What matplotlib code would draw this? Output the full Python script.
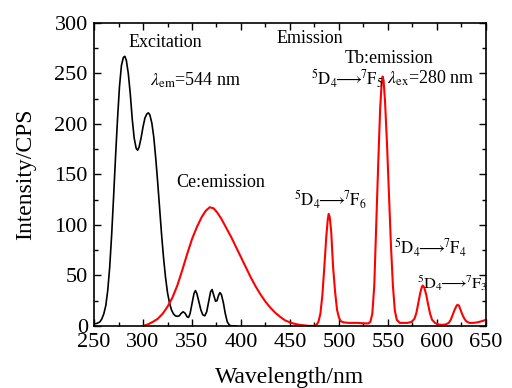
import numpy as np
import matplotlib
matplotlib.use("Agg")
import matplotlib.pyplot as plt
from matplotlib.ticker import MultipleLocator

plt.rcParams['font.family'] = ['Liberation Serif', 'DejaVu Serif']
plt.rcParams['mathtext.fontset'] = 'stix'

# excitation spectrum (lambda_em = 544 nm)
ex_wl = [250, 253, 256, 258, 260, 262, 264, 266, 268, 270, 272, 274, 276, 278, 280,
         281.5, 283, 285, 287, 289, 291, 293, 294.5, 296, 298, 300, 302, 304, 305.5, 307,
         309, 311, 313, 315, 317, 319, 321, 323, 325, 327, 329, 331, 333, 335, 337,
         339, 341, 343, 345, 346.5, 348, 350, 352, 353.5, 355, 357, 359, 361, 363, 365,
         367, 369, 370.5, 372, 374, 375.5, 377, 378.5, 380, 382, 384, 386, 388, 390, 395]
ex_int = [2, 2.5, 4, 7, 12, 20, 35, 58, 90, 128, 168, 205, 237, 258, 266,
          267, 263, 250, 230, 205, 186, 176, 174, 177, 186, 197, 206, 210, 211, 209,
          201, 187, 166, 142, 116, 90, 67, 48, 33, 23, 16, 12, 10, 9.5, 10,
          12.5, 14, 12.5, 9, 8.5, 12, 22, 32, 35, 32, 24, 16, 11, 10, 14,
          24, 34, 36, 31, 24.5, 25, 30, 33, 31, 23, 12, 4, 1, 0, 0]

# emission spectrum (lambda_ex = 280 nm)
em_wl = [300, 305, 310, 315, 320, 325, 330, 335, 340, 345, 350, 355, 360, 364, 368,
         372, 376, 380, 385, 390, 395, 400, 405, 410, 415, 420, 425, 430, 435, 440,
         445, 450, 455, 460, 465, 470, 474,
         477, 479, 481, 483, 485, 487, 488.5, 489.5, 490.5, 492, 494, 496, 498, 500,
         502, 505, 510, 515, 520, 525, 530,
         532, 534, 536, 538, 540, 542, 543.5, 544.5, 545.5, 547, 549, 551, 553, 555,
         557, 559, 562, 566, 570, 574,
         577, 579, 581, 583, 584.5, 585.5, 587, 589, 591, 593, 595, 598, 601, 605, 609,
         612, 614, 616, 618, 620, 621, 622.5, 624, 626, 628, 630, 633, 637, 641, 645, 650]
em_int = [0, 1.5, 4, 7, 12, 19, 28, 40, 55, 71, 86, 98, 108, 114, 117.5,
          116.5, 112, 106, 97, 88, 78, 68, 58, 48, 39, 31, 24, 18, 13, 9,
          5.5, 3.5, 2, 1, 0.5, 0, 0,
          1, 4, 12, 30, 58, 88, 105, 111, 108, 94, 58, 34, 16, 8,
          4.5, 3.5, 3, 3, 3, 2.5, 2.5,
          4, 12, 40, 100, 160, 215, 240, 247, 243, 222, 180, 130, 80, 40,
          15, 6, 3, 3, 3, 4,
          7, 13, 23, 33, 38.5, 40, 38, 31, 21, 12, 6, 3, 1.5, 1, 1.5,
          3, 6, 11, 16, 20, 21, 20, 16, 11, 7, 4.5, 3, 3, 3.5, 4.5, 6]

fig = plt.figure(figsize=(5.12, 3.88), dpi=100)
ax = fig.add_axes([0.1836, 0.16, 0.7656, 0.7807])

ax.plot(ex_wl, ex_int, color='black', lw=1.2)
ax.plot(em_wl, em_int, color='red', lw=1.5)

ax.set_xlim(250, 650)
ax.set_ylim(0, 300)
ax.xaxis.set_major_locator(MultipleLocator(50))
ax.xaxis.set_minor_locator(MultipleLocator(25))
ax.yaxis.set_major_locator(MultipleLocator(50))
ax.yaxis.set_minor_locator(MultipleLocator(25))
ax.tick_params(which='both', direction='in', top=True, right=True, labelsize=16, width=1)
ax.tick_params(which='major', length=5)
ax.tick_params(which='minor', length=3)
ax.tick_params(axis='x', pad=5)
ax.tick_params(axis='y', pad=4.5)
for s in ax.spines.values():
    s.set_linewidth(1.2)

ax.set_xlabel('Wavelength/nm', fontsize=17, labelpad=11)
ax.set_ylabel('Intensity/CPS', fontsize=17, labelpad=13)

fs = 13
ax.text(323, 281, 'Excitation', fontsize=fs, ha='center', va='center')
ax.text(307, 243, r'$\lambda_{\mathrm{em}}$=544 nm', fontsize=fs, ha='left', va='center')
ax.text(436, 285, 'Emission', fontsize=fs, ha='left', va='center')
ax.text(334, 142, 'Ce:emission', fontsize=fs, ha='left', va='center')
ax.text(506, 265, 'Tb:emission', fontsize=fs, ha='left', va='center')
ax.text(549, 245, r'$\lambda_{\mathrm{ex}}$=280 nm', fontsize=fs, ha='left', va='center')

def trans(x, y, lo, size=12):
    ax.text(x, y, r'$^{5}\mathrm{D}_{4}\!\!\longrightarrow\!\!{}^{7}\mathrm{F}_{%s}$' % lo,
            fontsize=size, ha='left', va='center')

trans(471, 245, '5')
trans(454, 125, '6')
trans(556, 77, '4')
trans(580, 42, '3', 11.8)

fig.savefig('out.png', dpi=100)
